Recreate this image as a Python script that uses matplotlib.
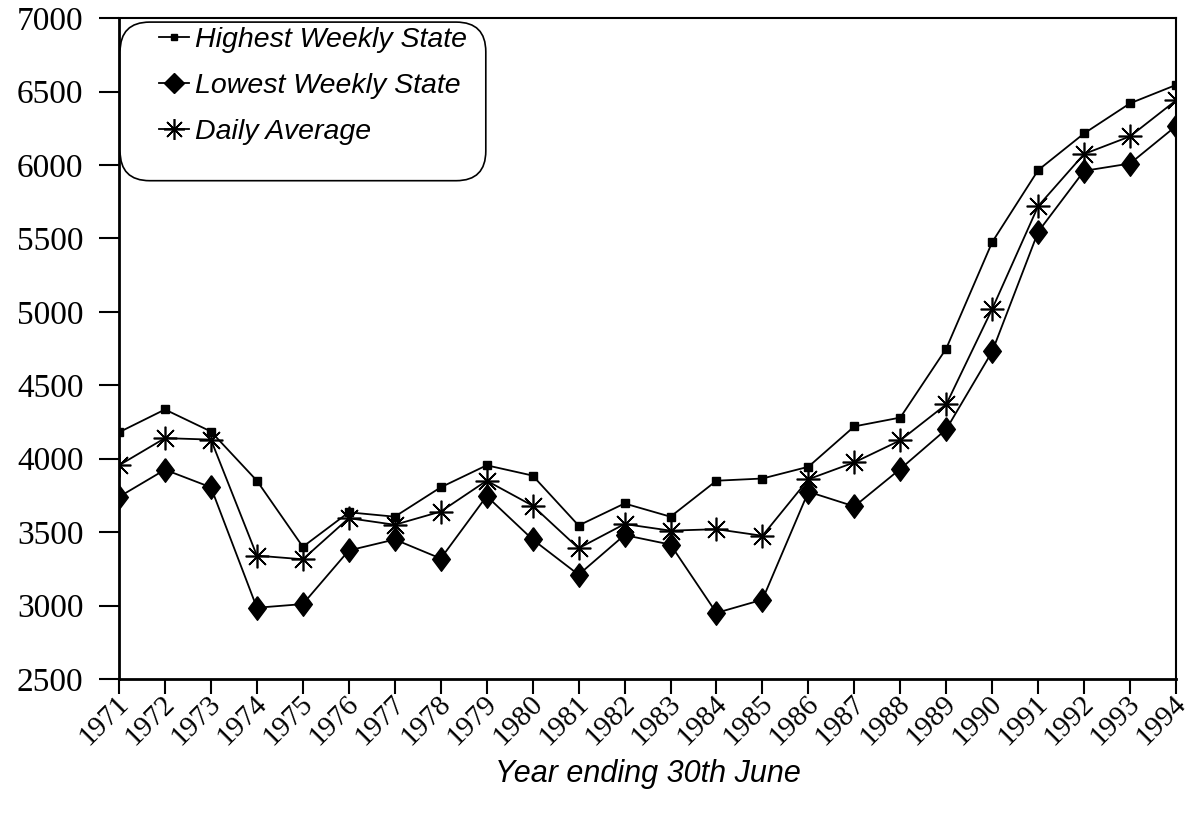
import matplotlib.pyplot as plt
import matplotlib.transforms as mtransforms
from matplotlib.patches import FancyBboxPatch

years = list(range(1971, 1995))
highest = [4180, 4335, 4185, 3850, 3400, 3635, 3605, 3805, 3955, 3885,
           3545, 3695, 3605, 3850, 3865, 3945, 4220, 4280, 4750, 5475,
           5965, 6215, 6420, 6545]
lowest = [3740, 3925, 3805, 2985, 3010, 3375, 3450, 3320, 3745, 3450,
          3210, 3480, 3415, 2950, 3040, 3775, 3675, 3930, 4200, 4730,
          5545, 5960, 6010, 6265]
daily = [3955, 4140, 4130, 3340, 3315, 3595, 3550, 3640, 3850, 3680,
         3390, 3555, 3510, 3520, 3475, 3860, 3975, 4125, 4370, 5020,
         5720, 6075, 6195, 6440]

# a diamond a bit narrower than it is tall
diamond = [(0, 1), (0.75, 0), (0, -1), (-0.75, 0), (0, 1)]

fig = plt.figure(figsize=(11.89, 8.24), dpi=100)
ax = fig.add_axes([0.1001, 0.176, 0.889, 0.802])

ax.plot(years, highest, color='black', lw=1.3, marker='s', ms=6,
        label='Highest Weekly State')
ax.plot(years, lowest, color='black', lw=1.3, marker=diamond, ms=17,
        label='Lowest Weekly State')
ax.plot(years, daily, color='black', lw=1.3, marker=(8, 2, 0), ms=17,
        mew=1.2, label='Daily Average')

ax.set_xlim(1971, 1994)
ax.set_ylim(2500, 7000)
ax.set_yticks(range(2500, 7001, 500))
ax.set_xticks(years)

serif = 'Liberation Serif'
ax.set_yticklabels([str(v) for v in range(2500, 7001, 500)],
                   fontfamily=serif, fontsize=24)
ax.set_xticklabels([str(y) for y in years], fontfamily=serif, fontsize=21,
                   rotation=45, ha='right', va='center', rotation_mode='anchor')
ax.tick_params(axis='y', direction='out', length=14.5, width=1.5, pad=11)
ax.tick_params(axis='x', direction='out', length=11, width=1.5, pad=4)
shift = mtransforms.ScaledTranslation(6 / 100, 0, fig.dpi_scale_trans)
for lab in ax.get_xticklabels():
    lab.set_transform(lab.get_transform() + shift)

for s in ax.spines.values():
    s.set_linewidth(1.5)
ax.spines['left'].set_linewidth(2)
ax.spines['bottom'].set_linewidth(2)

ax.set_xlabel('Year ending 30th June', fontfamily='Liberation Sans',
              fontstyle='italic', fontsize=22, labelpad=6)

# rounded legend box
box = FancyBboxPatch((0.001, 0.754), 0.346, 0.24, transform=ax.transAxes,
                     boxstyle='round,pad=0,rounding_size=0.028',
                     mutation_aspect=1057 / 659, fc='white', ec='black',
                     lw=1.2, zorder=3)
ax.add_patch(box)
leg = ax.legend(loc='upper left', bbox_to_anchor=(0.038, 0.987), frameon=False,
                borderaxespad=0, borderpad=0,
                handlelength=1.05, handletextpad=0.2, labelspacing=0.70,
                prop={'family': 'Liberation Sans', 'style': 'italic', 'size': 20.5})
leg.set_zorder(4)
hs = leg.legend_handles
hs[0].set_markersize(5)
hs[1].set_marker('D')
hs[1].set_markersize(10)
hs[2].set_markersize(15)

fig.savefig('out.png', dpi=100)
